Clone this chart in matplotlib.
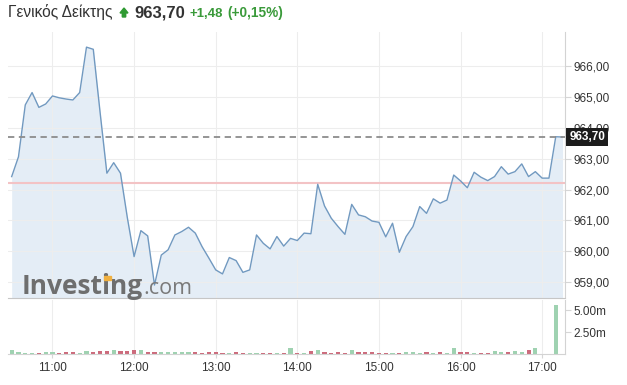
import numpy as np
import matplotlib
matplotlib.use("Agg")
import matplotlib.pyplot as plt
from matplotlib.patches import Polygon, Rectangle
from matplotlib.transforms import blended_transform_factory

plt.rcParams['font.family'] = ['Liberation Sans', 'DejaVu Sans']

# 5 minute bars from 10:30 to 17:15
start_hour = 10.5
step_min = 5

price = [962.42, 963.06, 964.74, 965.14, 964.66, 964.77, 965.03, 964.97, 964.93, 964.90,
         965.14, 966.61, 966.54, 964.50, 962.53, 962.87, 962.53, 961.10, 959.83, 960.67,
         960.50, 958.91, 959.88, 960.05, 960.53, 960.64, 960.78, 960.59, 960.15, 959.78,
         959.40, 959.27, 959.80, 959.70, 959.32, 959.40, 960.53, 960.26, 960.08, 960.48,
         960.17, 960.42, 960.35, 960.59, 960.57, 962.17, 961.47, 961.07, 960.80, 960.55,
         961.52, 961.18, 961.12, 960.98, 960.94, 960.47, 960.91, 959.97, 960.48, 960.80,
         961.45, 961.23, 961.70, 961.56, 961.66, 962.47, 962.28, 962.06, 962.56, 962.40,
         962.29, 962.42, 962.74, 962.50, 962.58, 962.83, 962.42, 962.58, 962.37, 962.37,
         963.71, 963.70]

# volume in millions
volume = [0.46, 0.20, 0.10, 0.10, 0.15, 0.20, 0.20, 0.10, 0.27, 0.20,
          0.10, 0.31, 0.20, 0.31, 0.35, 0.43, 0.35, 0.35, 0.46, 0.43,
          0.20, 0.20, 0.20, 0.20, 0.20, 0.20, 0.20, 0.20, 0.10, 0.20,
          0.20, 0.10, 0.10, 0.20, 0.10, 0.10, 0.10, 0.10, 0.10, 0.10,
          0.10, 0.66, 0.10, 0.10, 0.35, 0.46, 0.20, 0.10, 0.20, 0.10,
          0.43, 0.20, 0.20, 0.20, 0.10, 0.10, 0.10, 0.10, 0.20, 0.20,
          0.10, 0.20, 0.10, 0.20, 0.10, 0.66, 0.20, 0.20, 0.10, 0.10,
          0.10, 0.31, 0.20, 0.20, 0.31, 0.20, 0.46, 0.66, 0.00, 0.00,
          5.58, 0.00]

last_price = 963.70
prev_close = 962.22
price_ticks = [959, 960, 961, 962, 963, 964, 965, 966]
vol_ticks = [2.5, 5.0]
hour_ticks = [11, 12, 13, 14, 15, 16, 17]

title_name = "Γενικός Δείκτης"
title_price = "963,70"
title_change = "+1,48"
title_pct = "(+0,15%)"

W, H = 627, 385
x = start_hour + np.arange(len(price)) * step_min / 60
up = np.r_[True, np.diff(price) >= 0]
bar_colors = np.where(up, '#9fd2b1', '#cc6b7c')

fig = plt.figure(figsize=(W / 100, H / 100), dpi=100)
ax = fig.add_axes([8 / W, 87 / H, 557 / W, 266 / H])
axv = fig.add_axes([8 / W, 31 / H, 557 / W, 54 / H])

xlim = (10.455, 17.28)
ylim = (958.49, 967.1)

# price panel
ax.fill_between(x, price, ylim[0], color='#e4edf6', lw=0, zorder=1)
ax.plot(x, price, color='#7199c0', lw=1, zorder=3)
ax.axhline(prev_close, color='#f3c3c5', lw=1.5, zorder=2)
ax.axhline(last_price, color='#8c8c8c', lw=1.3, ls=(0, (3.5, 2.5)), zorder=4)
ax.set_xlim(*xlim)
ax.set_ylim(*ylim)
ax.set_yticks(price_ticks)
ax.set_yticklabels([f"{v:.2f}".replace('.', ',') for v in price_ticks])
ax.set_xticks(hour_ticks)
ax.yaxis.tick_right()
ax.tick_params(axis='y', length=4, color='#d6d6d6', labelcolor='#333333', labelsize=8.5, pad=2)
ax.tick_params(axis='x', length=0, labelbottom=False)
ax.grid(True, color='#ededed', lw=0.8, zorder=0)
for s in ['top', 'left']:
    ax.spines[s].set_visible(False)
ax.spines['right'].set_color('#d3d3d3')
ax.spines['bottom'].set_color('#c6c6c6')

tr = blended_transform_factory(ax.transAxes, ax.transData)
ax.annotate(title_price, xy=(1.0, last_price), xycoords=tr, xytext=(3, 0),
            textcoords='offset points', ha='left', va='center', color='white',
            fontsize=8.5, fontweight='bold', annotation_clip=False, zorder=10,
            bbox=dict(boxstyle='square,pad=0.25', fc='#1c1c1c', ec='none'))

# volume panel
axv.bar(x, volume, width=0.6 * step_min / 60, color=bar_colors, zorder=2)
axv.set_xlim(*xlim)
axv.set_ylim(0, 6.14)
axv.set_yticks(vol_ticks)
axv.set_yticklabels([f"{v:.2f}m" for v in vol_ticks])
axv.set_xticks(hour_ticks)
axv.set_xticklabels([f"{h}:00" for h in hour_ticks])
axv.yaxis.tick_right()
axv.tick_params(axis='y', length=4, color='#d6d6d6', labelcolor='#333333', labelsize=8.5, pad=2)
axv.tick_params(axis='x', length=3, color='#d6d6d6', labelcolor='#333333', labelsize=8.5, pad=3)
axv.grid(True, axis='x', color='#ededed', lw=0.8, zorder=0)
for s in ['top', 'left']:
    axv.spines[s].set_visible(False)
axv.spines['right'].set_color('#d3d3d3')
axv.spines['bottom'].set_color('#d3d3d3')

# header
base = 1 - 17 / H
fig.text(8 / W, base, title_name, fontsize=11.2, color='#333333', va='baseline')
fig.add_artist(Polygon([(120 / W, 1 - 13 / H), (124 / W, 1 - 8 / H), (128 / W, 1 - 13 / H),
                        (125.7 / W, 1 - 13 / H), (125.7 / W, 1 - 17 / H),
                        (122.3 / W, 1 - 17 / H), (122.3 / W, 1 - 13 / H)],
                       closed=True, color='#2f9a32', transform=fig.transFigure))
fig.text(134 / W, base, title_price, fontsize=12, fontweight='bold', color='#333333', va='baseline')
fig.text(190 / W, base, title_change, fontsize=9.5, fontweight='bold', color='#3a9a3a', va='baseline')
fig.text(227 / W, base, title_pct, fontsize=9.8, fontweight='bold', color='#3a9a3a', va='baseline')

# logo watermark
logo_y = 1 - 294 / H
logo_size = 19
logo = fig.text(22 / W, logo_y, "Investing", fontsize=logo_size, fontweight='bold', family='Open Sans',
                color='#6e6e6e', va='baseline', zorder=5)
fig.canvas.draw()
r = fig.canvas.get_renderer()
lb = logo.get_window_extent(r)
fig.text(lb.x1 / W, logo_y, ".com", fontsize=15.5, family='Open Sans',
         color='#7a7a7a', va='baseline', zorder=5)
# orange dot over the second "i"
p1 = fig.text(22 / W, logo_y, "Invest", fontsize=logo_size, fontweight='bold', family='Open Sans')
p2 = fig.text(22 / W, logo_y, "Investi", fontsize=logo_size, fontweight='bold', family='Open Sans')
xa = p1.get_window_extent(r).x1
xb = p2.get_window_extent(r).x1
p1.remove()
p2.remove()
fig.add_artist(Rectangle(((xa + 1) / W, 1 - 280 / H), (xb - xa - 1.5) / W, 4 / H, color='#f0b040',
                         transform=fig.transFigure, zorder=6))

fig.savefig("out.png", dpi=100)
